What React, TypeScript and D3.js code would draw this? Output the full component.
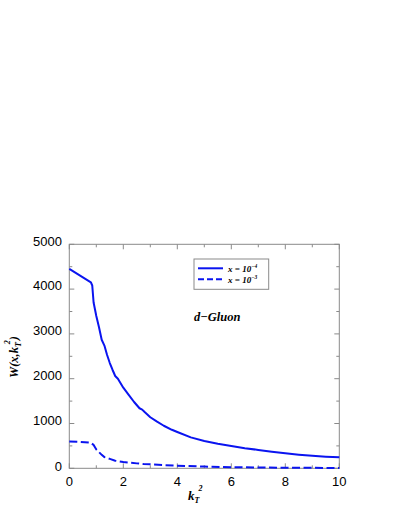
import React from "react";
import * as d3 from "d3";

const solidX = [0, 0.4, 0.8, 0.85, 0.9, 0.95, 1.0, 1.1, 1.2, 1.3, 1.4, 1.5, 1.6, 1.7, 1.8, 1.9, 2.0, 2.2, 2.4, 2.6, 2.7, 2.8, 3.0, 3.25, 3.5, 3.8, 4.0, 4.5, 5.0, 5.5, 6.0, 6.5, 7.0, 7.5, 8.0, 8.5, 9.0, 9.5, 10];
const solidY = [4450, 4300, 4150, 4080, 3700, 3550, 3400, 3150, 2870, 2740, 2530, 2350, 2200, 2060, 2000, 1900, 1800, 1640, 1480, 1340, 1310, 1250, 1140, 1040, 950, 860, 810, 690, 610, 550, 500, 450, 410, 370, 335, 305, 280, 260, 245];

const dashX = [0, 0.4, 0.8, 0.9, 1.0, 1.1, 1.2, 1.3, 1.5, 1.7, 2.0, 2.5, 2.75, 3.0, 3.5, 4.0, 5.0, 6.0, 7.0, 8.0, 9.0, 10];
const dashY = [600, 590, 570, 520, 420, 360, 300, 250, 210, 170, 140, 110, 95, 88, 72, 58, 38, 25, 18, 13, 10, 8];

const xTickLabels = [0, 2, 4, 6, 8, 10];
const yTickLabels = [0, 1000, 2000, 3000, 4000, 5000];
const xMinorTicks = [0, 1, 2, 3, 4, 5, 6, 7, 8, 9, 10];
const yMinorTicks = [0, 500, 1000, 1500, 2000, 2500, 3000, 3500, 4000, 4500, 5000];

const BLUE = "#0a14f0";
const FRAME = "#8a8a8a";

export default function App() {
  const left = 69.3, right = 339.3, top = 244.3, bottom = 468.3;
  const x = d3.scaleLinear().domain([0, 10]).range([left, right]);
  const y = d3.scaleLinear().domain([0, 5000]).range([bottom, top]);
  const line = d3.line<[number, number]>().x(d => x(d[0])).y(d => y(d[1])).curve(d3.curveLinear);
  const solid = line(solidX.map((v, i) => [v, solidY[i]]) as [number, number][]) || "";
  const dashed = line(dashX.map((v, i) => [v, dashY[i]]) as [number, number][]) || "";
  const serif = "'Liberation Serif', 'Times New Roman', serif";
  const sans = "'Liberation Sans', Arial, sans-serif";

  return (
    <svg width={409} height={529} style={{ position: "absolute", left: 0, top: 0, background: "#fff" }}>
      <rect x={0} y={0} width={409} height={529} fill="#fff" />
      {/* ticks */}
      {xMinorTicks.map(t => {
        const len = t % 2 === 0 ? 5 : 3;
        return (
          <g key={"xt" + t} stroke={FRAME} strokeWidth={1}>
            <line x1={x(t)} x2={x(t)} y1={bottom} y2={bottom - len} />
            <line x1={x(t)} x2={x(t)} y1={top} y2={top + len} />
          </g>
        );
      })}
      {yMinorTicks.map(t => {
        const len = t % 1000 === 0 ? 5 : 3;
        return (
          <g key={"yt" + t} stroke={FRAME} strokeWidth={1}>
            <line x1={left} x2={left + len} y1={y(t)} y2={y(t)} />
            <line x1={right} x2={right - len} y1={y(t)} y2={y(t)} />
          </g>
        );
      })}
      <rect x={left} y={top} width={right - left} height={bottom - top} fill="none" stroke={FRAME} strokeWidth={1} />
      {/* tick labels */}
      {xTickLabels.map(t => (
        <text key={"xl" + t} x={x(t)} y={bottom + 17.5} textAnchor="middle" fontFamily={sans} fontSize={13} fill="#000">{t}</text>
      ))}
      {yTickLabels.map(t => (
        <text key={"yl" + t} x={62} y={y(t) + (t === 0 ? 2.4 : 1.2)} textAnchor="end" fontFamily={sans} fontSize={13} fill="#000">{t}</text>
      ))}
      {/* curves */}
      <path d={solid} fill="none" stroke={BLUE} strokeWidth={2} strokeLinejoin="round" />
      <path d={dashed} fill="none" stroke={BLUE} strokeWidth={2} strokeDasharray="8,3.5" />
      {/* legend */}
      <rect x={194} y={259} width={74.7} height={30.3} fill="#fff" stroke={FRAME} strokeWidth={1} />
      <line x1={198} x2={223} y1={268.3} y2={268.3} stroke={BLUE} strokeWidth={2} />
      <line x1={198} x2={224} y1={279.3} y2={279.3} stroke={BLUE} strokeWidth={2} strokeDasharray="6,3" />
      <text x={228} y={271.5} fontFamily={serif} fontStyle="italic" fontWeight="bold" fontSize={9} fill="#000">
        x = 10<tspan fontSize={5.5} dy={-4}>−4</tspan>
      </text>
      <text x={228} y={282.5} fontFamily={serif} fontStyle="italic" fontWeight="bold" fontSize={9} fill="#000">
        x = 10<tspan fontSize={5.5} dy={-4}>−3</tspan>
      </text>
      {/* annotation */}
      <text x={194} y={321} fontFamily={serif} fontStyle="italic" fontWeight="bold" fontSize={12.5} fill="#000">d−Gluon</text>
      {/* x label */}
      <text x={188} y={500} fontFamily={serif} fontStyle="italic" fontWeight="bold" fontSize={13} fill="#000">
        k<tspan fontSize={8} dy={3}>T</tspan><tspan fontSize={8} dx={-1} dy={-12}>2</tspan>
      </text>
      {/* y label */}
      <text transform="translate(18,357) rotate(-90)" textAnchor="middle" fontFamily={serif} fontStyle="italic" fontWeight="bold" fontSize={12.5} fill="#000">
        W(x,k<tspan fontSize={8} dy={3}>T</tspan><tspan fontSize={8} dx={-2} dy={-11}>2</tspan><tspan dy={8}>)</tspan>
      </text>
    </svg>
  );
}
